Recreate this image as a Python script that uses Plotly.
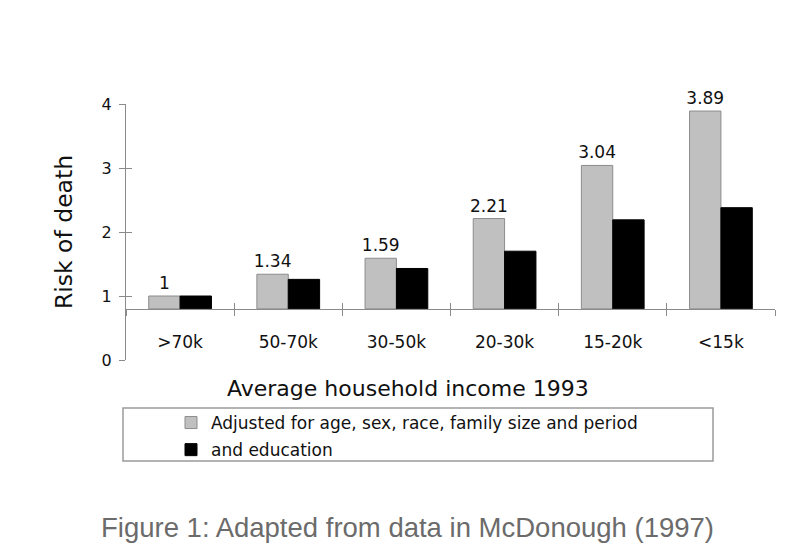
import plotly.graph_objects as go

# ---- data ----
CATEGORIES = [">70k", "50-70k", "30-50k", "20-30k", "15-20k", "<15k"]
ADJUSTED = [1.0, 1.34, 1.59, 2.21, 3.04, 3.89]          # age, sex, race, family size, period
EDUCATION = [1.0, 1.26, 1.43, 1.70, 2.19, 2.38]          # + education
ADJ_LABELS = ["1", "1.34", "1.59", "2.21", "3.04", "3.89"]
Y_TICKS = [0, 1, 2, 3, 4]
BASELINE = 0.8
Y_MAX = 4

SERIES1 = "Adjusted for age, sex, race, family size and period"
SERIES2 = "and education"
X_TITLE = "Average household income 1993"
Y_TITLE = "Risk of death"
CAPTION = "Figure 1: Adapted from data in McDonough (1997)"

# ---- layout geometry (pixels, in page coordinates; page has an 8px body margin) ----
W, H = 800, 556
PAGE = 8
L_PX, R_PX, T_PX, B_PX = 126, 775, 104, 360      # plot area edges on the page
ML, MR, MT, MB = L_PX - PAGE, W - (R_PX - PAGE), T_PX - PAGE, H - (B_PX - PAGE)
PW, PH = R_PX - L_PX, B_PX - T_PX


def px_x(px):
    return (px - L_PX) / PW


def px_y(py):
    return (B_PX - py) / PH


FONT = "DejaVu Sans"
AXIS_GREY = "#8a8a8a"
TEXT = "#111111"

fig = go.Figure()
fig.add_trace(go.Bar(
    name=SERIES1, x=CATEGORIES, y=[v - BASELINE for v in ADJUSTED], base=BASELINE,
    marker=dict(color="#c0c0c0", line=dict(color="#8c8c8c", width=1)),
    text=ADJ_LABELS, textposition="outside", cliponaxis=False, constraintext="none",
    textfont=dict(family=FONT, size=17, color=TEXT),
    legendgroup="a",
))
fig.add_trace(go.Bar(
    name=SERIES2, x=CATEGORIES, y=[v - BASELINE for v in EDUCATION], base=BASELINE,
    marker=dict(color="#000000", line=dict(color="#000000", width=1)),
    cliponaxis=False, legendgroup="b",
))
# helper trace so the overlay axes (inner halves of crossing ticks) are drawn
fig.add_trace(go.Scatter(x=[], y=[], xaxis="x2", yaxis="y2", showlegend=False, hoverinfo="skip"))

fig.update_layout(
    width=W, height=H,
    margin=dict(l=ML, r=MR, t=MT, b=MB, autoexpand=False),
    paper_bgcolor="white", plot_bgcolor="white",
    barmode="group", bargap=0.42, bargroupgap=0,
    font=dict(family=FONT, color=TEXT),
    showlegend=True,
    legend=dict(
        x=px_x(171), y=px_y(405), xanchor="left", yanchor="top",
        bgcolor="rgba(0,0,0,0)", borderwidth=0,
        font=dict(family=FONT, size=17, color=TEXT),
        traceorder="grouped", tracegroupgap=2,
    ),
    xaxis=dict(
        type="category", categoryarray=CATEGORIES, range=[-0.5, len(CATEGORIES) - 0.5],
        anchor="free", position=BASELINE / Y_MAX, automargin=False,
        showline=True, linecolor=AXIS_GREY, linewidth=1,
        ticks="outside", ticklen=6, tickcolor=AXIS_GREY, tickson="boundaries",
        showgrid=False, zeroline=False,
        tickfont=dict(family=FONT, size=17, color=TEXT),
        ticklabelstandoff=18,
    ),
    xaxis2=dict(
        overlaying="x", anchor="free", position=BASELINE / Y_MAX, automargin=False,
        range=[-0.5, len(CATEGORIES) - 0.5],
        tickvals=[i - 0.5 for i in range(len(CATEGORIES) + 1)],
        ticks="inside", ticklen=6, tickcolor=AXIS_GREY,
        showticklabels=False, showline=False, showgrid=False, zeroline=False,
    ),
    yaxis=dict(
        range=[0, Y_MAX], tickvals=Y_TICKS, automargin=False,
        showline=True, linecolor=AXIS_GREY, linewidth=1,
        ticks="outside", ticklen=6, tickcolor=AXIS_GREY,
        showgrid=False, zeroline=False,
        tickfont=dict(family=FONT, size=16, color=TEXT),
        ticklabelstandoff=4,
        title=dict(text=Y_TITLE, font=dict(family=FONT, size=23.5, color=TEXT), standoff=22),
    ),
    yaxis2=dict(
        overlaying="y", anchor="x", side="left", range=[0, Y_MAX], tickvals=Y_TICKS,
        automargin=False,
        ticks="inside", ticklen=6, tickcolor=AXIS_GREY,
        showticklabels=False, showline=False, showgrid=False, zeroline=False,
    ),
    shapes=[dict(
        type="rect", xref="paper", yref="paper",
        x0=px_x(123), x1=px_x(713), y0=px_y(461), y1=px_y(408),
        line=dict(color="#9a9a9a", width=1.5), fillcolor="rgba(0,0,0,0)", layer="below",
    )],
    annotations=[
        dict(text=X_TITLE, xref="paper", yref="paper", x=px_x(408), y=px_y(388),
             xanchor="center", yanchor="middle", showarrow=False,
             font=dict(family=FONT, size=22, color=TEXT)),
        dict(text=CAPTION, xref="paper", yref="paper", x=px_x(407.5), y=px_y(527),
             xanchor="center", yanchor="middle", showarrow=False,
             font=dict(family="Liberation Sans", size=27.5, color="#6b6b6b")),
    ],
)

fig.write_html("out.html")
